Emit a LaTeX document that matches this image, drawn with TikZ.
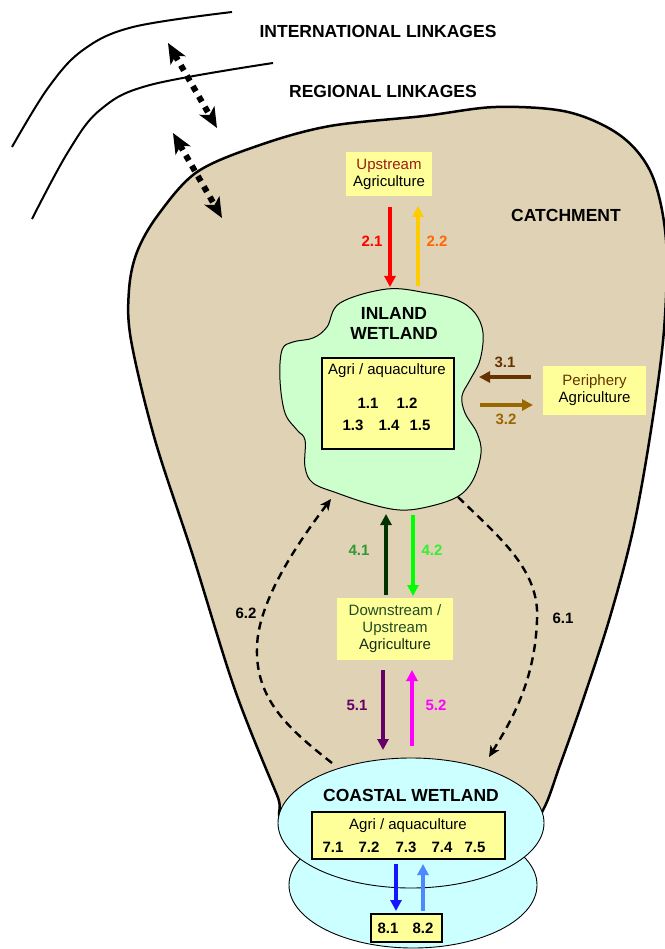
\documentclass[tikz,border=0pt]{standalone}
\usepackage{fontspec}
\setmainfont{Liberation Sans}
\usetikzlibrary{arrows.meta}
\definecolor{catchtan}{RGB}{224,210,180}
\definecolor{inlandgreen}{RGB}{204,255,204}
\definecolor{coastcyan}{RGB}{204,255,255}
\definecolor{boxyellow}{RGB}{255,255,153}
\definecolor{upred}{RGB}{153,30,20}
\definecolor{perbrown}{RGB}{102,51,0}
\definecolor{perbrownb}{RGB}{153,102,0}
\definecolor{dsgreen}{RGB}{35,75,35}
\definecolor{cgold}{RGB}{255,204,0}
\definecolor{corange}{RGB}{255,102,0}
\definecolor{dkgreen}{RGB}{0,51,0}
\definecolor{midgreen}{RGB}{51,153,51}
\definecolor{brgreen}{RGB}{0,255,0}
\definecolor{lbgreen}{RGB}{51,240,51}
\definecolor{cpurple}{RGB}{102,0,102}
\definecolor{cmagenta}{RGB}{255,0,255}
\definecolor{cblue}{RGB}{20,20,255}
\definecolor{clblue}{RGB}{77,136,255}
\begin{document}
\begin{tikzpicture}[x=1pt,y=-1pt,
  every node/.style={inner sep=0pt, outer sep=0pt},
  heading/.style={font=\fontsize{17.5}{20}\selectfont\bfseries, align=center},
  numlab/.style={font=\fontsize{15}{17}\selectfont\bfseries},
  plain/.style={font=\fontsize{15}{17}\selectfont, align=center},
  ybox/.style={fill=boxyellow, minimum width=#1},
  bbox/.style={draw, line width=1.3pt, fill=boxyellow},
  flow/.style={line width=3.6pt, -{Triangle[length=11pt,width=11pt]}},
  linkarrow/.style={line width=6pt, dash pattern=on 6pt off 6pt,
     {Stealth[length=20pt,width=17pt,inset=5pt]}-{Stealth[length=20pt,width=17pt,inset=5pt]}},
  backflow/.style={line width=2.4pt, dash pattern=on 8pt off 5.5pt, -{Stealth[length=11pt,width=10pt,inset=3pt]}},
  outline/.style={line width=2pt}
]
\useasboundingbox (0,0) rectangle (664,949);

% catchment
\draw[outline, line width=2.5pt, fill=catchtan] plot[smooth cycle, tension=0.55] coordinates {
 (290,822) (277,795) (235,690) (193,556) (155,440) (131,340) (129,290) (137,252) (158,215)
 (197,172) (260,145) (330,126) (424,116) (496,107) (568,112) (621,136) (652,175)
 (666,240) (664,330) (651,430) (633,530) (610,617) (583,700) (560,765) (543,810) (520,835) (410,845)};

% linkage curves
\draw[outline] plot[smooth, tension=0.6] coordinates {(12,147) (48,88) (83,50) (133,27) (232,12)};
\draw[outline] plot[smooth, tension=0.6] coordinates {(32,219) (68,152) (100,110) (150,85) (273,63)};

% linkage arrows
\coordinate (li1) at (168,43);
\coordinate (li2) at (217,128);
\coordinate (lr1) at (173,133);
\coordinate (lr2) at (222,218);
\draw[linkarrow] (li1) -- (li2);
\draw[linkarrow] (lr1) -- (lr2);

\node[heading] (intl) at (378,31) {INTERNATIONAL LINKAGES};
\node[heading] (regl) at (383,91) {REGIONAL LINKAGES};
\node[heading] (catch) at (566,215) {CATCHMENT};

% inland wetland
\draw[line width=1pt, fill=inlandgreen] plot[smooth cycle, tension=0.6] coordinates {
 (387,289) (427,293) (457,300) (475,313) (483,333) (480,360) (470,380) (462,396)
 (465,413) (477,433) (481,453) (473,480) (457,497) (427,507) (400,510) (370,504)
 (337,493) (313,483) (305,467) (305,440) (297,430) (285,413) (280,380) (282,350)
 (293,342) (313,338) (327,327) (340,303)};
\node[heading] (inland) at (394,323) {INLAND\\WETLAND};
\node[bbox, minimum width=132pt, minimum height=91pt] (inagri) at (388,403.5) {};
\node[plain] (inagrit) at (387,371) {Agri / aquaculture};
\node[numlab] (n11) at (368,403) {1.1};
\node[numlab] (n12) at (407,403) {1.2};
\node[numlab] (n13) at (353,425) {1.3};
\node[numlab] (n14) at (389,425) {1.4};
\node[numlab] (n15) at (420,425) {1.5};

% upstream
\node[ybox=86pt, minimum height=44pt, plain] (upstream) at (389,174) {{\color{upred}Upstream}\\Agriculture};
\coordinate (a21s) at (390,207);
\coordinate (a21e) at (390,287);
\coordinate (a22s) at (418,286);
\coordinate (a22e) at (418,206);
\draw[flow, red] (a21s) -- (a21e);
\draw[flow, cgold] (a22s) -- (a22e);
\node[numlab, text=red] (l21) at (372,241) {2.1};
\node[numlab, text=corange] (l22) at (437,241) {2.2};

% periphery
\node[ybox=103pt, minimum height=49pt, plain] (periph) at (594.5,390.5) {{\color{perbrown}Periphery}\\Agriculture};
\coordinate (a31s) at (531,377);
\coordinate (a31e) at (479,377);
\coordinate (a32s) at (480,405);
\coordinate (a32e) at (533,405);
\draw[flow, perbrown] (a31s) -- (a31e);
\draw[flow, perbrownb] (a32s) -- (a32e);
\node[numlab, text=perbrown] (l31) at (505,362) {3.1};
\node[numlab, text=perbrownb] (l32) at (506,419) {3.2};

% downstream
\node[ybox=116pt, minimum height=62pt, plain] (downs) at (395,629) {{\color{dsgreen}Downstream /}\\{\color{dsgreen}Upstream}\\{\color{dsgreen!60!black}Agriculture}};
\coordinate (a41s) at (386,595);
\coordinate (a41e) at (386,514);
\coordinate (a42s) at (413,515);
\coordinate (a42e) at (413,596);
\draw[flow, dkgreen] (a41s) -- (a41e);
\draw[flow, brgreen] (a42s) -- (a42e);
\node[numlab, text=midgreen] (l41) at (359,550) {4.1};
\node[numlab, text=lbgreen] (l42) at (432,550) {4.2};

\coordinate (a51s) at (383,670);
\coordinate (a51e) at (383,750);
\coordinate (a52s) at (412,746);
\coordinate (a52e) at (412,670);
\draw[flow, cpurple] (a51s) -- (a51e);
\draw[flow, cmagenta] (a52s) -- (a52e);
\node[numlab, text=cpurple] (l51) at (357,705) {5.1};
\node[numlab, text=cmagenta] (l52) at (436,705) {5.2};

% dashed exchanges
\coordinate (b61s) at (458,497);
\coordinate (b61m) at (537,620);
\coordinate (b61e) at (489,757);
\coordinate (b62s) at (332,763);
\coordinate (b62m) at (257,647);
\coordinate (b62e) at (331,499);
\draw[backflow] (b61s) .. controls (500,538) and (540,570) .. (b61m) .. controls (535,680) and (512,720) .. (b61e);
\draw[backflow] (b62s) .. controls (290,730) and (255,700) .. (b62m) .. controls (258,600) and (300,540) .. (b62e);
\node[numlab] (l61) at (563,618) {6.1};
\node[numlab] (l62) at (246,613) {6.2};

% coastal wetland
\draw[line width=0.9pt, fill=coastcyan] (413,885) ellipse [x radius=124, y radius=63];
\draw[line width=0.9pt, fill=coastcyan] (411,823) ellipse [x radius=133, y radius=65];
\node[heading] (coastal) at (411,795) {COASTAL WETLAND};
\node[bbox, minimum width=193pt, minimum height=47pt] (coagri) at (408.5,835.5) {};
\node[plain] (coagrit) at (408,826) {Agri / aquaculture};
\node[numlab] (n71) at (333,847) {7.1};
\node[numlab] (n72) at (369,847) {7.2};
\node[numlab] (n73) at (406,847) {7.3};
\node[numlab] (n74) at (442,847) {7.4};
\node[numlab] (n75) at (475,847) {7.5};

\coordinate (a81s) at (396,864);
\coordinate (a81e) at (396,911);
\coordinate (a82s) at (423,911);
\coordinate (a82e) at (423,864);
\draw[flow, cblue] (a81s) -- (a81e);
\draw[flow, clblue] (a82s) -- (a82e);

\node[bbox, minimum width=71pt, minimum height=28pt] (box8) at (406.5,928) {};
\node[numlab] (n81) at (388,928) {8.1};
\node[numlab] (n82) at (423,928) {8.2};
\end{tikzpicture}
\end{document}
